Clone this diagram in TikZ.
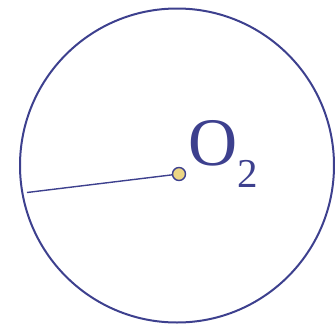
\documentclass[tikz,border=0pt]{standalone}
\usepackage{fontspec}
\setmainfont{Liberation Serif}
\usepackage{tikz}
\usetikzlibrary{positioning, calc}

\definecolor{inkblue}{RGB}{61,64,142}
\definecolor{dotyellow}{RGB}{236,214,132}

\begin{document}
\begin{tikzpicture}[
    x=1pt, y=-1pt,
    rim/.style={
        draw=inkblue, 
        line width=2pt
    },
    radius line/.style={
        draw=inkblue, 
        line width=1.4pt
    },
    centerdot/.style={
        circle, 
        draw=inkblue, 
        fill=dotyellow, 
        line width=1.4pt, 
        minimum size=13pt, 
        inner sep=0pt
    },
    label text/.style={
        text=inkblue, 
        inner sep=0pt, 
        anchor=base west
    }
]
    \useasboundingbox (0,0) rectangle (335,327);

    % --- circle O2 ---
    \draw[rim] (177,165.5) circle[radius=157];

    % --- radius and centre ---
    \coordinate (rimpoint) at (27,192.5);
    \node[centerdot] (o2) at (179,174) {};
    \draw[radius line] (rimpoint) -- (o2);

    \node[label text] (o2label) at (188,165)
        {\fontsize{68}{68}\selectfont O\raisebox{-22pt}{\fontsize{41}{41}\selectfont 2}};

\end{tikzpicture}
\end{document}
